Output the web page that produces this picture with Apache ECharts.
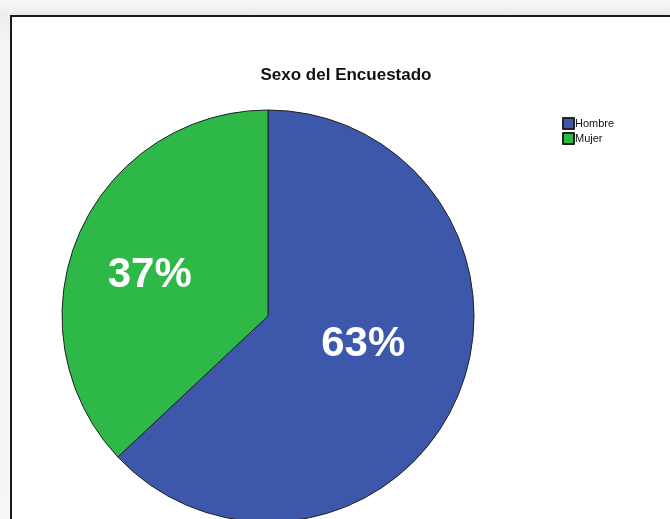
<!DOCTYPE html>
<html>
<head>
<meta charset="utf-8">
<script src="https://cdn.jsdelivr.net/npm/echarts@6/dist/echarts.min.js"></script>
<style>
  html, body { margin: 0; padding: 0; }
  body {
    width: 670px; height: 519px; overflow: hidden; position: relative;
    background: linear-gradient(to bottom, #f9f9f9 0px, #ececec 14px, #f4f4f4 40px, #f6f6f6 519px);
  }
  #frame {
    position: absolute; left: 10px; top: 15px; width: 700px; height: 560px;
    background: #ffffff; border: 2px solid #1a1a1a;
  }
  #chart { position: absolute; left: 0; top: 0; width: 670px; height: 519px; }
</style>
</head>
<body>
<div id="frame"></div>
<div id="chart"></div>
<script>
// Survey respondents by sex
const chartTitle = 'Sexo del Encuestado';
const categories = ['Hombre', 'Mujer'];
const percentages = [63, 37];
const sliceColors = ['#3d58aa', '#2eb848'];
// nudges for the inside percentage labels
const labelOffsets = [[-2, -14], [-21, 2]];

const chart = echarts.init(document.getElementById('chart'), null, { renderer: 'canvas' });

chart.setOption({
  backgroundColor: 'transparent',
  animation: false,
  title: {
    text: chartTitle,
    left: 341,
    top: 62,
    textAlign: 'center',
    textStyle: {
      fontFamily: 'Liberation Sans, Arial, sans-serif',
      fontSize: 17,
      fontWeight: 'bold',
      color: '#111'
    }
  },
  legend: {
    orient: 'vertical',
    left: 557,
    top: 112,
    itemWidth: 11,
    itemHeight: 11,
    itemGap: 2,
    icon: 'rect',
    selectedMode: false,
    data: categories,
    textStyle: {
      fontFamily: 'Liberation Sans, Arial, sans-serif',
      fontSize: 11,
      color: '#111',
      padding: [0, 0, 0, -4]
    }
  },
  series: [{
    type: 'pie',
    center: [268, 316],
    radius: 206,
    startAngle: 90,
    clockwise: true,
    avoidLabelOverlap: false,
    itemStyle: { borderColor: '#222', borderWidth: 1 },
    label: {
      show: true,
      position: 'inside',
      formatter: '{c}%',
      color: '#ffffff',
      fontFamily: 'Liberation Sans, Arial, sans-serif',
      fontWeight: 'bold',
      fontSize: 42
    },
    labelLine: { show: false },
    emphasis: { disabled: true },
    data: categories.map((name, i) => ({
      name: name,
      value: percentages[i],
      itemStyle: { color: sliceColors[i], borderColor: '#222', borderWidth: 1 },
      label: { offset: labelOffsets[i] }
    }))
  }]
});
</script>
</body>
</html>
